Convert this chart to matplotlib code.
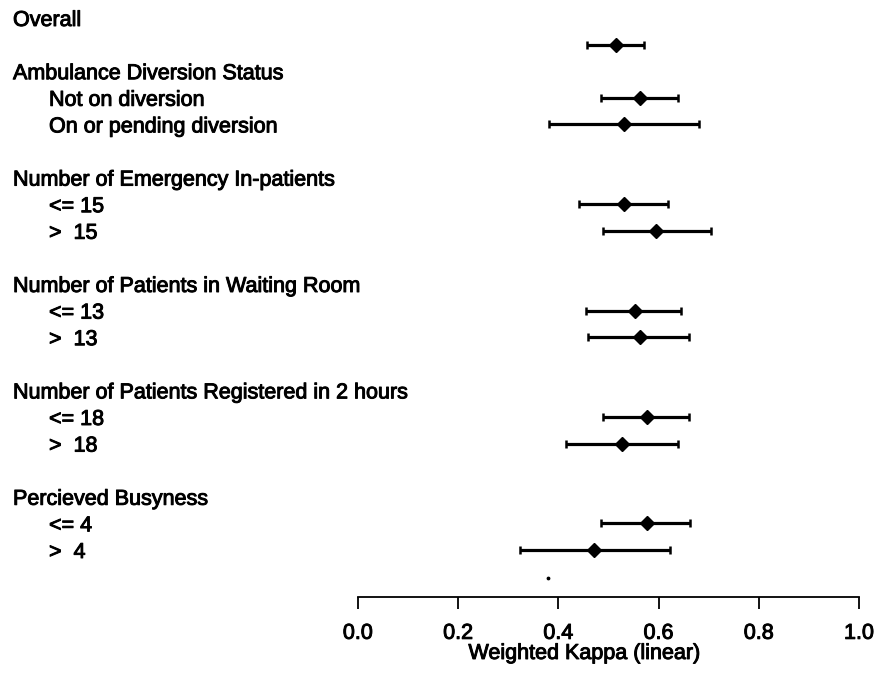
import matplotlib
matplotlib.use("Agg")
import matplotlib.pyplot as plt
import matplotlib.patheffects as pe
from matplotlib.transforms import blended_transform_factory

plt.rcParams['font.family'] = ['Liberation Sans', 'DejaVu Sans']

# group headers and their sub-rows ("" = estimate drawn on its own row, no label)
groups = ["Overall",
          "Ambulance Diversion Status",
          "Number of Emergency In-patients",
          "Number of Patients in Waiting Room",
          "Number of Patients Registered in 2 hours",
          "Percieved Busyness"]
subgroups = [[""],
             ["Not on diversion", "On or pending diversion"],
             ["<= 15", ">  15"],
             ["<= 13", ">  13"],
             ["<= 18", ">  18"],
             ["<= 4", ">  4"]]

# weighted kappa and 95% CI, in row order
kappa = [0.515, 0.563, 0.531, 0.531, 0.595, 0.553, 0.563, 0.577, 0.526, 0.576, 0.471]
lower = [0.458, 0.485, 0.382, 0.442, 0.490, 0.456, 0.460, 0.490, 0.415, 0.485, 0.323]
upper = [0.571, 0.639, 0.681, 0.618, 0.704, 0.645, 0.661, 0.661, 0.638, 0.663, 0.623]

xticks = [0.0, 0.2, 0.4, 0.6, 0.8, 1.0]
stray_x = [0.379]   # speck in the scanned original
stray_row = [21.05]

W, H = 882, 682
fig = plt.figure(figsize=(W / 100, H / 100), dpi=100)
# axis from x=358px to 859px, bottom spine at y=597px
ax = fig.add_axes([358 / W, 85 / H, 501 / W, 597 / H])

pitch = 26.6
ax.set_xlim(0, 1)
ax.set_ylim((597 - 18) / pitch, -18 / pitch)

# work out row positions
header_rows, label_rows, labels, bar_rows = [], [], [], []
r = 0
for g, subs in zip(groups, subgroups):
    header_rows.append(r)
    for k, s in enumerate(subs):
        bar_rows.append(r + 1 + k)
        if s:
            label_rows.append(r + 1 + k)
            labels.append(s)
    r += 1 + len(subs) + (1 if subs[0] else 0)

err = [[k - lo for k, lo in zip(kappa, lower)], [hi - k for k, hi in zip(kappa, upper)]]
ax.errorbar(kappa, bar_rows, xerr=err, fmt='D', color='black', ms=7.5,
            elinewidth=2.3, capsize=3.2, capthick=1.8, clip_on=False)
ax.scatter(stray_x, stray_row, s=3, color='black', clip_on=False)

# scanned original has heavy text: thicken slightly
heavy = [pe.withStroke(linewidth=0.7, foreground='black')]

trans = blended_transform_factory(fig.transFigure, ax.transData)
fs = 15.5
for g, row in zip(groups, header_rows):
    ax.text(13 / W, row + 0.3, g, transform=trans, fontsize=fs, va='baseline',
            path_effects=heavy)
for s, row in zip(labels, label_rows):
    ax.text(49 / W, row + 0.3, s, transform=trans, fontsize=fs, va='baseline',
            path_effects=heavy)

for side in ['top', 'right', 'left']:
    ax.spines[side].set_visible(False)
ax.spines['bottom'].set_linewidth(1.3)
ax.set_yticks([])
ax.set_xticks(xticks)
ax.set_xticklabels([f"{t:.1f}" for t in xticks])
ax.tick_params(axis='x', direction='out', length=8.6, width=1.3, pad=10, labelsize=fs)
for t in ax.get_xticklabels():
    t.set_path_effects(heavy)
ax.set_xlabel("Weighted Kappa (linear)", fontsize=fs, path_effects=heavy)
ax.xaxis.set_label_coords(0.451, -0.077)

fig.savefig("out.png", dpi=100)
